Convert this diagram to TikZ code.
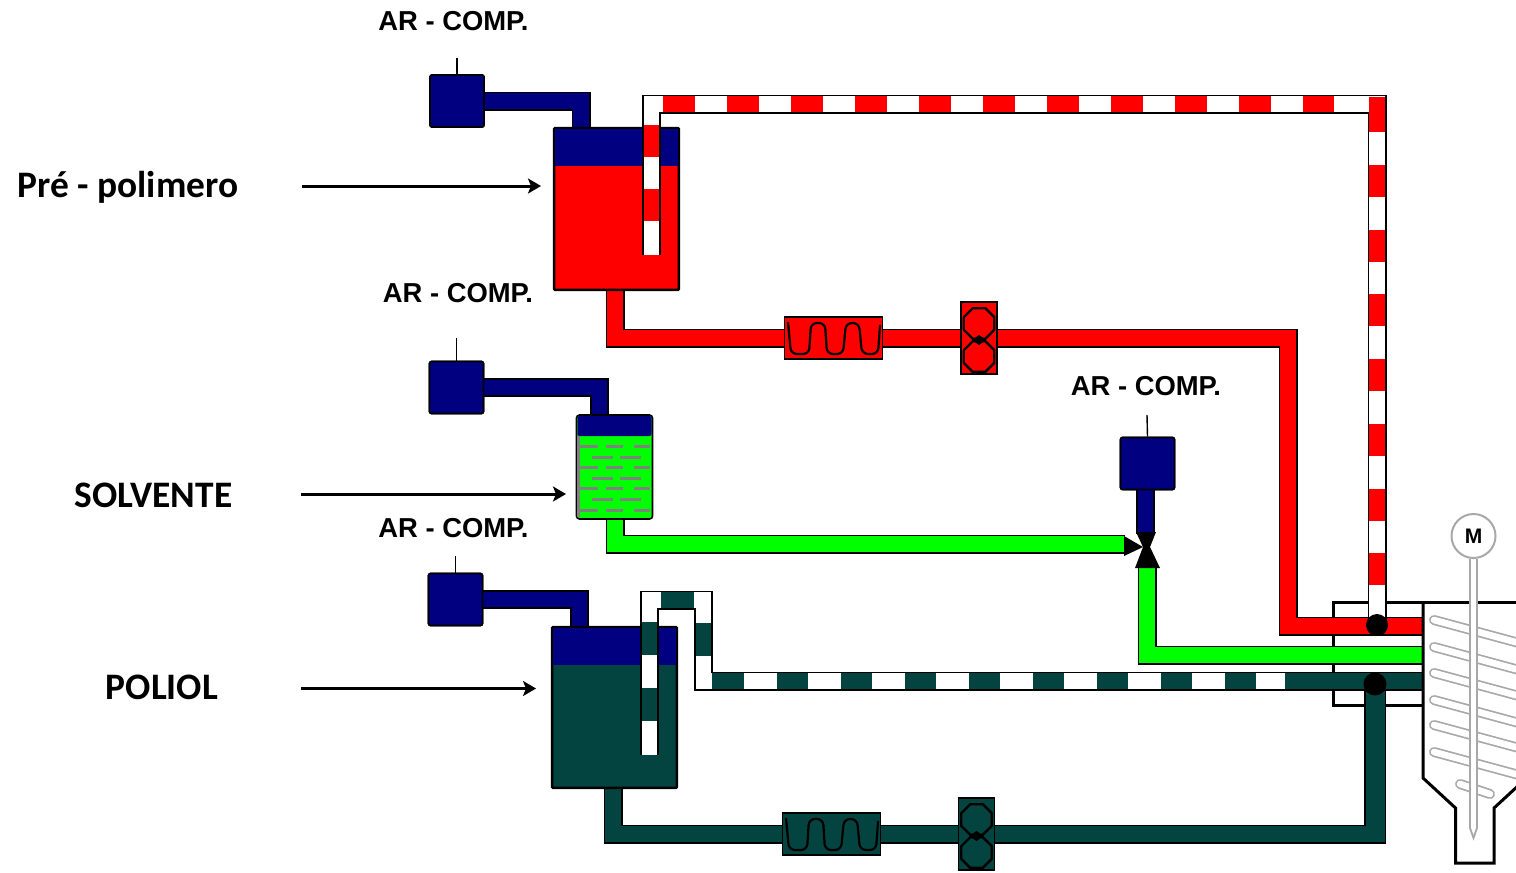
\documentclass[tikz,border=0pt]{standalone}
\usepackage{fontspec}
\setmainfont{Liberation Sans}
\newfontfamily\labelfont{Carlito}
\usetikzlibrary{shapes.geometric,arrows.meta,calc}
\definecolor{navy}{HTML}{000080}
\definecolor{teal}{HTML}{044440}
\definecolor{lime}{HTML}{00FF00}
\definecolor{wallgrey}{HTML}{A8A8A8}
\definecolor{foamgrey}{HTML}{808080}
\newcommand{\pipe}[2]{%
  \draw[line width=19pt,black,miter limit=10] #2;
  \draw[line width=15.5pt,#1,miter limit=10] #2;}
\newcommand{\stripedtube}[1]{%
  \draw[line width=19pt,black,miter limit=10] #1;
  \draw[line width=15.5pt,white,miter limit=10] #1;}
\tikzset{
  x=1pt,y=-1pt,
  comp/.style={draw=black,fill=navy,line width=1.6pt,rounded corners=2pt,inner sep=0pt,minimum width=54pt,minimum height=52pt},
  tankbox/.style={draw=black,line width=1.6pt,inner sep=0pt,rounded corners=1pt},
  heater/.style={draw=black,line width=1.6pt,inner sep=0pt,minimum width=98pt,minimum height=42pt},
  pumpbox/.style={draw=black,line width=1.6pt,inner sep=0pt,minimum width=36pt,minimum height=72pt},
  oct/.style={regular polygon,regular polygon sides=8,draw=black,line width=2.4pt,inner sep=0pt,minimum size=33pt},
  complabel/.style={font=\fontsize{27.4}{30}\selectfont\bfseries,inner sep=0pt},
  sidelabel/.style={font=\labelfont\fontsize{37.4}{40}\selectfont\bfseries,inner sep=0pt},
  feed/.style={line width=3pt,-{Stealth[length=13pt,width=15pt,inset=3pt]}},
  stem/.style={line width=1.4pt,black},
  coil/.style={line width=2.2pt,black,rounded corners=6pt},
  dot/.style={circle,fill=black,inner sep=0pt,minimum size=22pt},
  wall/.style={line width=3pt,black},
  paddle/.style={line width=10pt,wallgrey,line cap=round},
  paddlein/.style={line width=6.6pt,white,line cap=round},
  foam/.style={line width=3pt,foamgrey},
}
\begin{document}
\begin{tikzpicture}
\useasboundingbox (0,0) rectangle (1516,873);
\clip (0,0) rectangle (1516,873);
% ---------- named points
\coordinate (rtop) at (651.5,255);
\coordinate (r1) at (651.5,104);
\coordinate (r2) at (1377,104);
\coordinate (r3) at (1377,625);
\coordinate (rp0) at (615,285);
\coordinate (rp1) at (1288,338);
\coordinate (rp2) at (1423,626);
\coordinate (gp0) at (615,515);
\coordinate (gp1) at (1125,544);
\coordinate (gp2) at (1147,565);
\coordinate (gp3) at (1423,655);
\coordinate (t0) at (649.5,755);
\coordinate (t1) at (649.5,600);
\coordinate (t2) at (703.5,600);
\coordinate (t3) at (703.5,681);
\coordinate (t4) at (1423,681);
\coordinate (tp0) at (613,784);
\coordinate (tp1) at (1375,834);
\coordinate (tp2) at (1375,684);
% ---------- enclosure behind the pipes
\draw[wall] (1423,602) -- (1333,602) -- (1333,705) -- (1423,705);
% ---------- heaters and pumps positions (nodes drawn after pipes)
\node[heater,fill=red] (heatR) at (833.5,338) {};
\node[pumpbox,fill=red] (pumpR) at (979,338) {};
\node[heater,fill=teal] (heatT) at (831.5,834) {};
\node[pumpbox,fill=teal] (pumpT) at (976.5,834) {};
% ---------- air lines
\node[comp] (compA) at (457,101) {};
\node[comp] (compB) at (456.5,387.5) {};
\node[comp] (compC) at (455.5,599.5) {};
\node[comp] (compD) at (1147.5,463.5) {};
\coordinate (aA) at (581,132);
\coordinate (aB) at (599.5,420);
\coordinate (aC) at (579.5,631);
\coordinate (aD) at (1145.5,534);
\pipe{navy}{(compA) -| (aA)}
\pipe{navy}{(compB) -| (aB)}
\pipe{navy}{(compC) -| (aC)}
\pipe{navy}{(compD.south -| aD) -- (aD)}
\node[comp] at (compA) {};
\node[comp] at (compB) {};
\node[comp] at (compC) {};
\node[comp] at (compD) {};
\coordinate (sA) at (457,58);
\coordinate (sB) at (456.5,338);
\coordinate (sC) at (455.5,556);
\coordinate (sD) at (1147,415);
\draw[stem] (sA) -- (compA.north);
\draw[stem] (sB) -- (compB.north);
\draw[stem] (sC) -- (compC.north);
\draw[stem] (sD) -- (compD.north);
% ---------- process pipes
\pipe{red}{(rp0) |- (rp1) |- (rp2)}
\pipe{lime}{(gp0) |- (gp1)}
\pipe{lime}{(gp2) |- (gp3)}
\fill[black] (1364,690) rectangle (1386,844);
\pipe{teal}{(tp0) |- (tp1) -- (tp2)}
\fill[teal] (1365.5,690) rectangle (1384.5,842.4);
% ---------- tanks
\node[tankbox,fill=red,minimum width=124pt,minimum height=161pt] (tankR) at (616.5,209) {};
\fill[navy] (555,129) rectangle (678,166);
\draw[black,line width=1.6pt,rounded corners=1pt] (tankR.south west) rectangle (tankR.north east);
\node[tankbox,fill=lime,draw=black,rounded corners=3pt,minimum width=76pt,minimum height=104pt] (tankS) at (614.5,467) {};
\fill[navy,rounded corners=2pt] (577.5,416) rectangle (651.5,436);
\draw[line width=2.5pt,foamgrey] (578.5,436) -- (578.5,517);
\foreach \y in {446,467,488,510}{
  \draw[foam] (580,\y) -- (598,\y);
  \draw[foam] (606,\y) -- (623,\y);
  \draw[foam] (634,\y) -- (650,\y);
}
\foreach \y in {457,478,499}{
  \draw[foam] (592,\y) -- (613,\y);
  \draw[foam] (620,\y) -- (641,\y);
}
\node[tankbox,fill=teal,minimum width=124pt,minimum height=160pt] (tankT) at (614.5,707.5) {};
\fill[navy] (553,628) rectangle (676,665);
\draw[black,line width=1.6pt,rounded corners=1pt] (tankT.south west) rectangle (tankT.north east);
% ---------- striped return tube, red
\stripedtube{(rtop) -- (r1) -- (r2) -- (r3)}
\draw[line width=15.5pt,red,dash pattern=on 32pt off 32pt] (651.5,221) -- (r1) -- (1334,104);
\draw[line width=15.5pt,red] (1377,132) -- (1377,97);
\draw[line width=15.5pt,red,dash pattern=on 32pt off 32.7pt] (1377,165) -- (1377,587);
% ---------- striped return tube, teal
\stripedtube{(t0) -- (t1) -- (t2) -- (t3) -- (t4)}
\draw[line width=15.5pt,teal,dash pattern=on 33pt off 33pt] (649.5,721) -- (t1) -- (t2) -- (t3) -- (713,681);
\draw[line width=15.5pt,teal,dash pattern=on 31pt off 33pt] (713,681) -- (1285,681);
\draw[line width=15.5pt,teal] (1285,681) -- (t4);
% ---------- heaters
\node[heater,fill=red] at (heatR) {};
\draw[coil] (788,322) -- (791,354) -- (809,354) -- (811,323) -- (825,323) -- (827,354) -- (843,354) -- (846,323) -- (859,323) -- (862,354) -- (878,354) -- (880,325);
\node[heater,fill=teal] at (heatT) {};
\draw[coil] (786,818) -- (789,850) -- (807,850) -- (809,819) -- (823,819) -- (825,850) -- (841,850) -- (844,819) -- (857,819) -- (860,850) -- (876,850) -- (878,821);
% ---------- pumps
\node[pumpbox,fill=red] at (pumpR) {};
\node[oct] (oR1) at (979,323.5) {};
\node[oct] (oR2) at (979,356.5) {};
\fill[black] (972,340) -- (979,335) -- (986,340) -- (979,345) -- cycle;
\node[pumpbox,fill=teal] at (pumpT) {};
\node[oct] (oT1) at (976.5,819.5) {};
\node[oct] (oT2) at (976.5,852.5) {};
\fill[black] (969.5,836) -- (976.5,831) -- (983.5,836) -- (976.5,841) -- cycle;
% ---------- three-way valve
\fill[black] (1124,536) -- (1143,547) -- (1124,556) -- cycle;
\fill[black] (1136,532) -- (1156,532) -- (1150,547) -- (1160,568) -- (1135,568) -- (1143,547) -- cycle;
% ---------- junction dots
\node[dot] (dotR) at (1377,625) {};
\node[dot,minimum size=23pt] (dotT) at (1375,684) {};
% ---------- mixer
\foreach \y in {620,647,673,700,725,752}{
  \draw[paddle] (1434,\y) -- (1530,{\y+26});
  \draw[paddlein] (1434,\y) -- (1530,{\y+26});
}
\draw[paddle] (1460,784) -- (1490,794);
\draw[paddlein] (1460,784) -- (1490,794);
\draw[wall] (1423,602) -- (1516,602);
\draw[wall] (1423,602) -- (1423,778) -- (1455.5,808) -- (1455.5,863) -- (1494,863) -- (1494,808) -- (1520,784);
\node[circle,draw=wallgrey,fill=white,line width=2pt,minimum size=44pt,inner sep=0pt,font=\fontsize{21}{24}\selectfont\bfseries] (motor) at (1473.5,536) {M};
\draw[line width=1.8pt,wallgrey,fill=white] (motor.south -| 1470,0) -- (1470,828) -- (1473.5,838) -- (1477,828) -- (motor.south -| 1477,0);
% ---------- labels and arrows
\node[complabel] (lA) at (453.5,21) {AR - COMP.};
\node[complabel] (lB) at (458,293) {AR - COMP.};
\node[complabel] (lC) at (453.5,528) {AR - COMP.};
\node[complabel] (lD) at (1146,386) {AR - COMP.};
\node[sidelabel] (lR) at (128,187) {Pré - polimero};
\node[sidelabel] (lS) at (153.5,495) {SOLVENTE};
\node[sidelabel] (lT) at (162,687) {POLIOL};
\coordinate (fR) at (302,186);
\coordinate (fS) at (301,494);
\coordinate (fT) at (301,688.5);
\coordinate (eR) at (541,186);
\coordinate (eS) at (566,494);
\coordinate (eT) at (536,688.5);
\draw[feed] (fR) -- (eR);
\draw[feed] (fS) -- (eS);
\draw[feed] (fT) -- (eT);
\end{tikzpicture}
\end{document}
